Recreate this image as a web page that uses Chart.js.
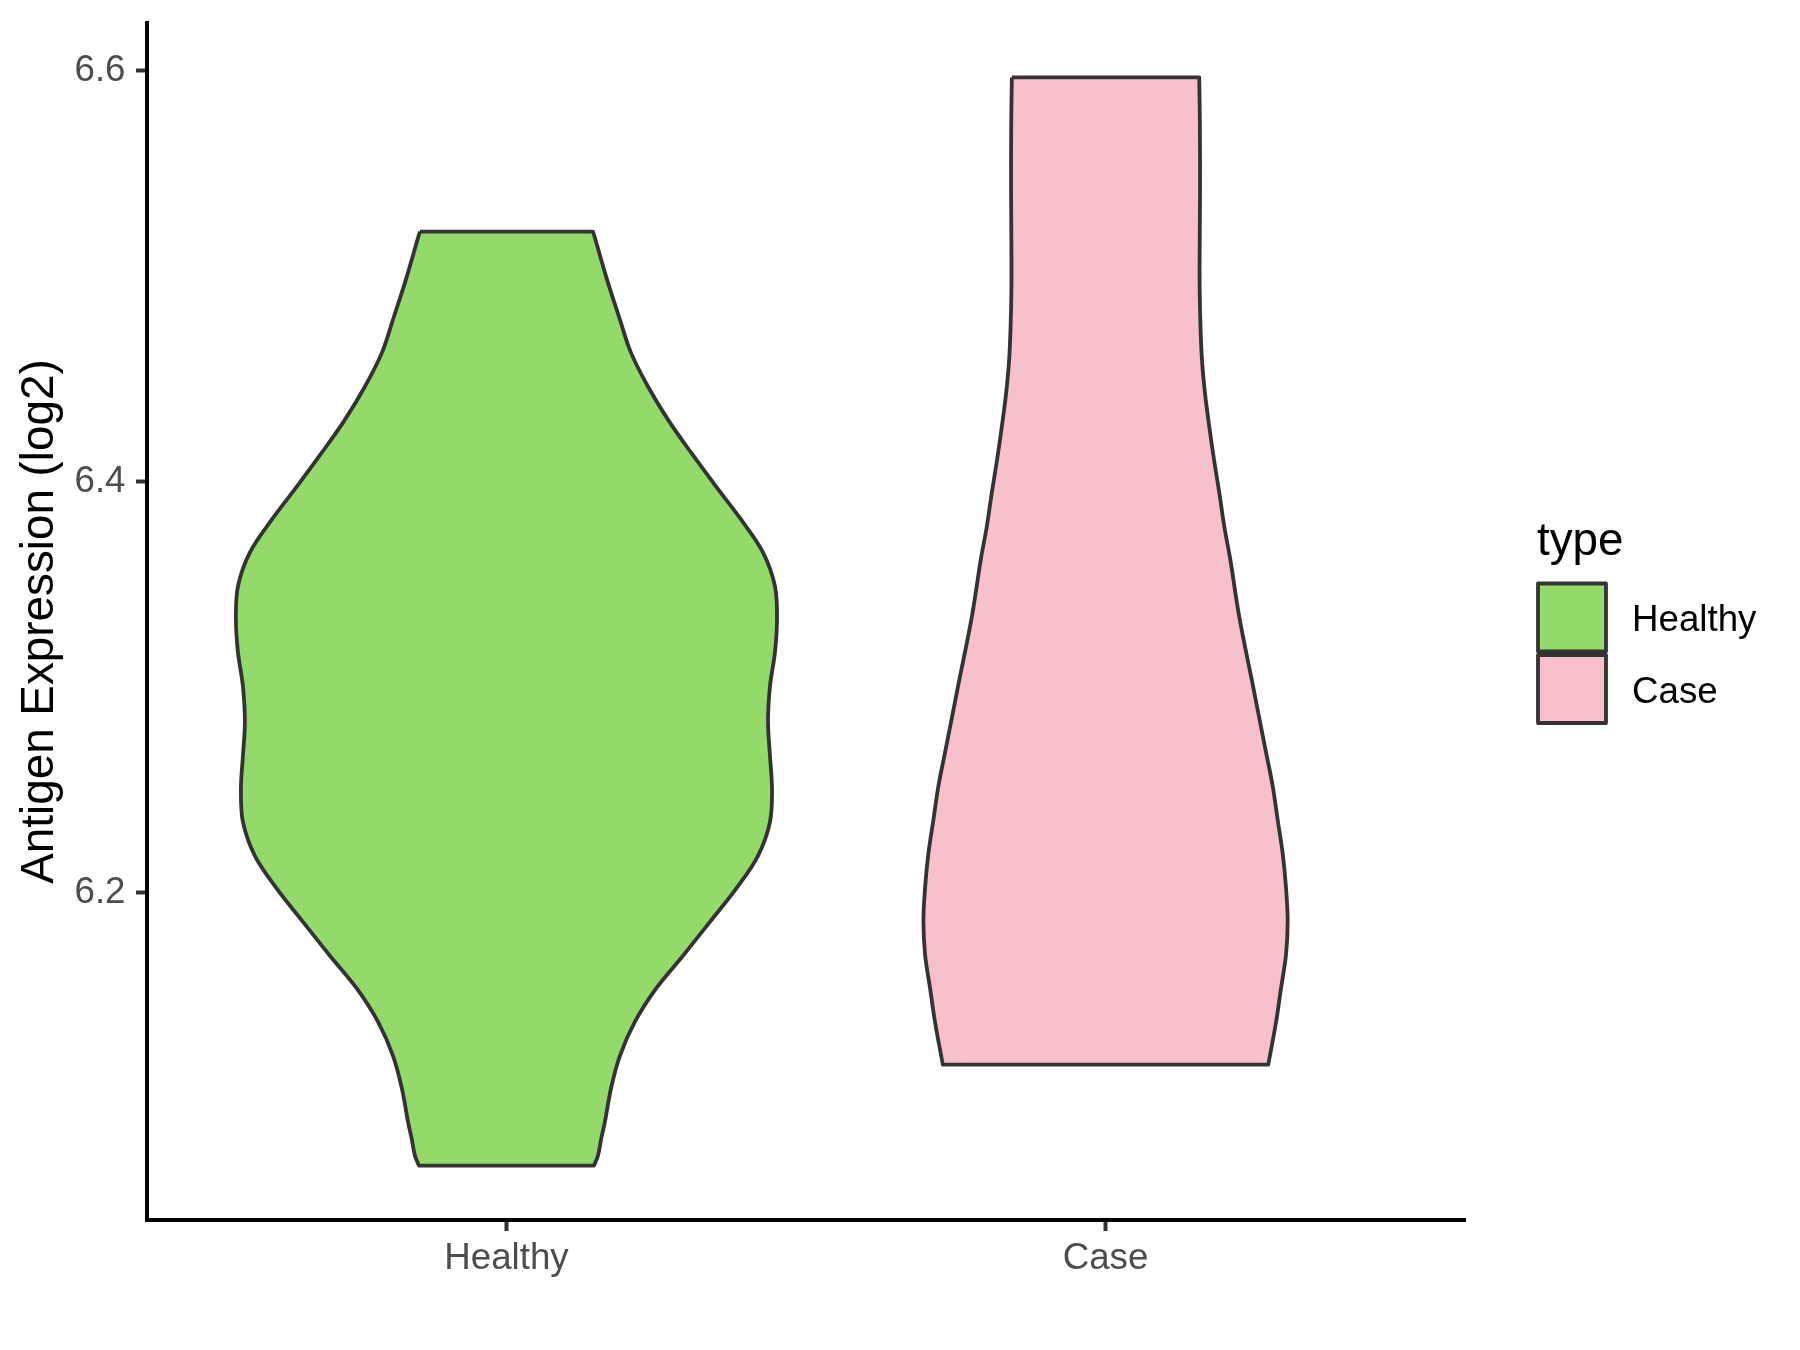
<!DOCTYPE html>
<html><head><meta charset="utf-8">
<script src="https://cdn.jsdelivr.net/npm/chart.js@4.4.1/dist/chart.umd.min.js"></script>
<style>html,body{margin:0;padding:0;background:#fff}canvas{display:block}</style>
</head><body>
<canvas id="c" width="1800" height="1350"></canvas>
<script>
// ---- data ----
const categories = ['Healthy', 'Case'];
const categoryPositions = [1, 2];
const yTicks = [6.2, 6.4, 6.6];
const yAxisTitle = 'Antigen Expression (log2)';
const legendTitle = 'type';

// violin outlines: y value and half-width (in category units), top to bottom
const healthyY = [6.5218, 6.5194, 6.5113, 6.5032, 6.4950, 6.4789, 6.4629, 6.4464, 6.4303, 6.4143, 6.3978, 6.3817, 6.3657, 6.3492, 6.3331, 6.3171, 6.3006, 6.2831, 6.2666, 6.2505, 6.2345, 6.2180, 6.2019, 6.1859, 6.1694, 6.1534, 6.1373, 6.1208, 6.1048, 6.0887, 6.0805, 6.0722, 6.0673];
const healthyHalfWidth = [0.1444, 0.1470, 0.1550, 0.1630, 0.1715, 0.1895, 0.2078, 0.2362, 0.2696, 0.3080, 0.3497, 0.3915, 0.4282, 0.4482, 0.4516, 0.4482, 0.4399, 0.4366, 0.4399, 0.4432, 0.4399, 0.4199, 0.3831, 0.3397, 0.2947, 0.2496, 0.2145, 0.1895, 0.1745, 0.1644, 0.1583, 0.1528, 0.1461];
const caseY = [6.5968, 6.5728, 6.5406, 6.5081, 6.4920, 6.4755, 6.4595, 6.4434, 6.4269, 6.4109, 6.3948, 6.3783, 6.3623, 6.3343, 6.3014, 6.2685, 6.2520, 6.2356, 6.2191, 6.2027, 6.1862, 6.1698, 6.1534, 6.1369, 6.1164];
const caseHalfWidth = [0.1564, 0.1575, 0.1577, 0.1570, 0.1572, 0.1585, 0.1609, 0.1659, 0.1731, 0.1810, 0.1898, 0.1982, 0.2082, 0.2232, 0.2456, 0.2678, 0.2790, 0.2873, 0.2957, 0.3012, 0.3040, 0.3012, 0.2928, 0.2845, 0.2716];

const fillColors = ['#93DA6B', '#F7C0CB'];
const outlineColor = '#333333';
const FONT = "'Liberation Sans', Arial, Helvetica, sans-serif";

// closed outline: left side top->bottom, bottom edge, right side bottom->top, top edge.
// corner points are repeated so the spline keeps the flat ends straight.
function violinPoints(center, ys, hws) {
  const left = ys.map((y, i) => ({x: center - hws[i], y}));
  const right = ys.map((y, i) => ({x: center + hws[i], y})).reverse();
  const n = left.length;
  const pts = [];
  pts.push(left[0]);
  for (let i = 0; i < n; i++) pts.push(left[i]);
  pts.push(left[n - 1]);
  pts.push(right[0]);
  for (let i = 0; i < n; i++) pts.push(right[i]);
  pts.push(right[n - 1]);
  pts.push(left[0]);
  pts.push(left[0]);
  return pts;
}

const series = [
  {ys: healthyY, hws: healthyHalfWidth},
  {ys: caseY, hws: caseHalfWidth}
];

const datasets = series.map((s, i) => ({
  label: categories[i],
  data: violinPoints(categoryPositions[i], s.ys, s.hws),
  showLine: true,
  fill: 'shape',
  backgroundColor: fillColors[i],
  borderColor: outlineColor,
  borderWidth: 3.8,
  borderJoinStyle: 'round',
  pointRadius: 0,
  pointHoverRadius: 0,
  tension: 0.35
}));

const legendPlugin = {
  id: 'violinLegend',
  afterDraw(chart) {
    const ctx = chart.ctx;
    ctx.save();
    ctx.fillStyle = '#000';
    ctx.textBaseline = 'alphabetic';
    ctx.textAlign = 'left';
    ctx.font = '45.8px ' + FONT;
    ctx.fillText(legendTitle, 1537, 555);
    categories.forEach((c, i) => {
      const top = 583.5 + i * 71.5;
      ctx.beginPath();
      ctx.rect(1538, top, 68, 68);
      ctx.fillStyle = fillColors[i];
      ctx.fill();
      ctx.lineWidth = 3.8;
      ctx.strokeStyle = outlineColor;
      ctx.lineJoin = 'round';
      ctx.stroke();
      ctx.fillStyle = '#000';
      ctx.font = '36.7px ' + FONT;
      ctx.fillText(c, 1632, top + 47.5);
    });
    ctx.restore();
  }
};

new Chart(document.getElementById('c'), {
  type: 'scatter',
  data: {datasets},
  plugins: [legendPlugin],
  options: {
    responsive: false,
    animation: false,
    devicePixelRatio: 1,
    layout: {padding: {top: 23, right: 335, bottom: 0, left: 0}},
    plugins: {legend: {display: false}, tooltip: {enabled: false}},
    scales: {
      x: {
        type: 'linear',
        min: 0.4,
        max: 2.6,
        afterBuildTicks: (scale) => { scale.ticks = categoryPositions.map(v => ({value: v})); },
        afterFit: (scale) => { scale.height = 130; scale.paddingLeft = 0; scale.paddingRight = 0; },
        ticks: {
          callback: (v) => { const k = categoryPositions.indexOf(v); return k >= 0 ? categories[k] : ''; },
          color: '#4D4D4D',
          font: {family: FONT, size: 36.7},
          padding: 5.5,
          maxRotation: 0,
          autoSkip: false
        },
        grid: {display: true, drawOnChartArea: false, drawTicks: true, tickLength: 11, tickColor: '#333333', tickWidth: 4},
        border: {display: true, color: '#000000', width: 4}
      },
      y: {
        type: 'linear',
        min: 6.0408,
        max: 6.6233,
        afterBuildTicks: (scale) => { scale.ticks = yTicks.map(v => ({value: v})); },
        afterFit: (scale) => { scale.width = 147; scale.paddingTop = 0; scale.paddingBottom = 0; },
        ticks: {
          callback: (v) => Number(v).toFixed(1),
          color: '#4D4D4D',
          font: {family: FONT, size: 36.7},
          padding: 10.5
        },
        grid: {display: true, drawOnChartArea: false, drawTicks: true, tickLength: 11, tickColor: '#333333', tickWidth: 4},
        border: {display: true, color: '#000000', width: 4},
        title: {
          display: true,
          text: yAxisTitle,
          color: '#000000',
          font: {family: FONT, size: 45.8},
          padding: {top: 13, bottom: 0}
        }
      }
    }
  }
});
</script>
</body></html>
